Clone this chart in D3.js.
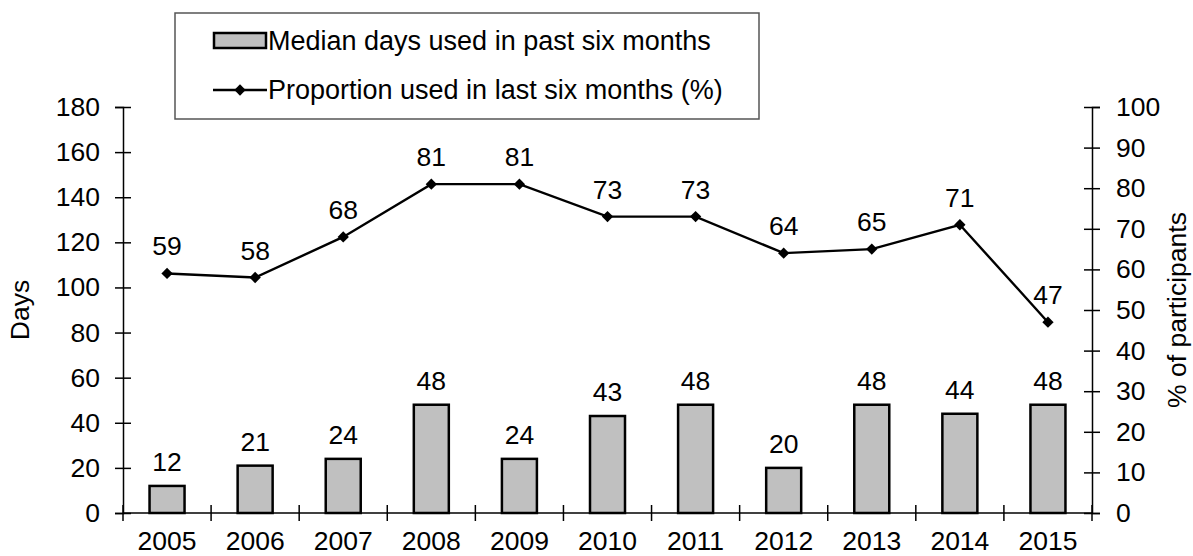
<!DOCTYPE html>
<html><head><meta charset="utf-8">
<script src="https://cdn.jsdelivr.net/npm/d3@7"></script>
<style>body{margin:0;background:#fff}svg{display:block}text{font-family:"Liberation Sans",Arial,sans-serif;fill:#000}</style>
</head><body><svg id="c" width="1193" height="556"></svg>
<script>
const years = ["2005","2006","2007","2008","2009","2010","2011","2012","2013","2014","2015"];
const medianDays = [12,21,24,48,24,43,48,20,48,44,48];
const proportion = [59,58,68,81,81,73,73,64,65,71,47];
const leftTicks = [0,20,40,60,80,100,120,140,160,180];
const rightTicks = [0,10,20,30,40,50,60,70,80,90,100];
const seriesNames = ["Median days used in past six months","Proportion used in last six months (%)"];

const svg = d3.select("#c");
const L=123, R=1092, T=107, B=513;
const x = d3.scaleBand().domain(years).range([L,R]).paddingInner(0).paddingOuter(0);
const yL = d3.scaleLinear().domain([0,180]).range([B,T]);
const yR = d3.scaleLinear().domain([0,100]).range([B,T]);
const fs = 26.5;
const lfs = 27;

// bars
const bw = 35;
svg.selectAll("rect.bar").data(years).join("rect")
  .attr("x", d=>x(d)+x.bandwidth()/2-bw/2).attr("width", bw)
  .attr("y", (d,i)=>yL(medianDays[i])).attr("height",(d,i)=>B-yL(medianDays[i]))
  .attr("fill","#c0c0c0").attr("stroke","#000").attr("stroke-width",2.5);
svg.selectAll("text.bl").data(years).join("text")
  .attr("x", d=>x(d)+x.bandwidth()/2).attr("y",(d,i)=>yL(medianDays[i])-15)
  .attr("text-anchor","middle").attr("font-size",fs).text((d,i)=>medianDays[i]);

// axes
const gL = svg.append("g").attr("transform",`translate(${L},0)`)
  .call(d3.axisLeft(yL).tickValues(leftTicks).tickSize(8).tickPadding(15));
gL.selectAll(".tick line").attr("x2",-8).attr("x1",8);
const gR = svg.append("g").attr("transform",`translate(${R},0)`)
  .call(d3.axisRight(yR).tickValues(rightTicks).tickSize(8).tickPadding(16));
gR.selectAll(".tick line").attr("x1",-8).attr("x2",8);
const gB = svg.append("g").attr("transform",`translate(0,${B})`)
  .call(d3.axisBottom(x).tickSize(0).tickPadding(18));
[gL,gR,gB].forEach(g=>{
  g.select(".domain").attr("stroke","#000").attr("stroke-width",1.5);
  g.selectAll(".tick line").attr("stroke","#000").attr("stroke-width",1.5);
  g.selectAll(".tick text").attr("font-size",fs).attr("font-family","Liberation Sans, Arial, sans-serif").attr("fill","#000");
});
gB.select(".domain").attr("d",`M${L},0H${R}`);
// category boundary ticks
const bounds = years.map(d=>x(d)).concat([R]);
svg.append("g").selectAll("line").data(bounds).join("line")
  .attr("x1",d=>d).attr("x2",d=>d).attr("y1",B-8).attr("y2",B+8)
  .attr("stroke","#000").attr("stroke-width",1.5);

// line
const cx = d=>x(d)+x.bandwidth()/2;
const line = d3.line().x((d,i)=>cx(years[i])).y(d=>yR(d));
svg.append("path").datum(proportion).attr("d",line).attr("fill","none").attr("stroke","#000").attr("stroke-width",2.4);
const diamond = d3.symbol().type(d3.symbolSquare).size(64);
svg.selectAll("path.pt").data(proportion).join("path")
  .attr("transform",(d,i)=>`translate(${cx(years[i])},${yR(d)}) rotate(45)`).attr("d",diamond).attr("fill","#000");
svg.selectAll("text.pl").data(proportion).join("text")
  .attr("x",(d,i)=>cx(years[i])).attr("y",d=>yR(d)-18)
  .attr("text-anchor","middle").attr("font-size",fs).text(d=>d);

// axis titles
svg.append("text").attr("transform","translate(29,310) rotate(-90)").attr("text-anchor","middle").attr("font-size",fs).text("Days");
svg.append("text").attr("transform","translate(1186,310) rotate(-90)").attr("text-anchor","middle").attr("font-size",fs).text("% of participants");

// legend
svg.append("rect").attr("x",175).attr("y",13).attr("width",584).attr("height",106)
  .attr("fill","#fff").attr("stroke","#555").attr("stroke-width",1.5);
svg.append("rect").attr("x",214).attr("y",33).attr("width",52).attr("height",15)
  .attr("fill","#c0c0c0").attr("stroke","#000").attr("stroke-width",2.5);
svg.append("line").attr("x1",213).attr("x2",267).attr("y1",90).attr("y2",90).attr("stroke","#000").attr("stroke-width",2.4);
svg.append("path").attr("transform","translate(240,90) rotate(45)").attr("d",diamond).attr("fill","#000");
svg.append("text").attr("x",268).attr("y",50).attr("font-size",lfs).text(seriesNames[0]);
svg.append("text").attr("x",268).attr("y",99).attr("font-size",lfs).text(seriesNames[1]);
</script></body></html>
